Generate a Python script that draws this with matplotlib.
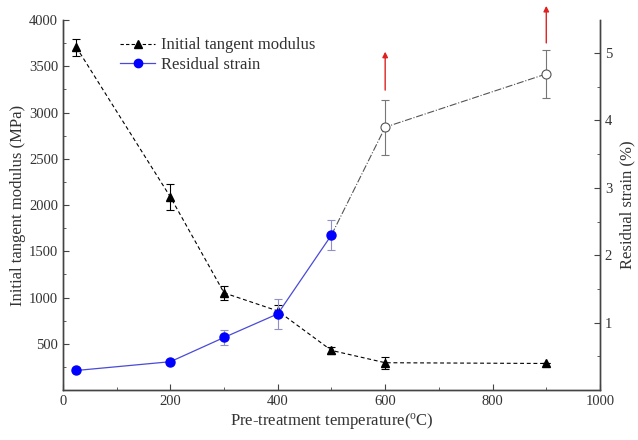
import matplotlib
matplotlib.use("Agg")
import matplotlib.pyplot as plt
from matplotlib.ticker import MultipleLocator, FixedLocator

plt.rcParams['font.family'] = ['Liberation Serif', 'DejaVu Serif']
plt.rcParams['mathtext.default'] = 'regular'

# Data
temp = [25, 200, 300, 400, 500, 600, 900]
modulus = [3705, 2087, 1050, 855, 428, 295, 287]
modulus_err = [95, 140, 75, 60, 40, 65, 0]

strain_temp = [25, 200, 300, 400, 500]
strain = [0.29, 0.42, 0.78, 1.13, 2.30]
strain_err = [0.0, 0.0, 0.11, 0.22, 0.22]

open_temp = [500, 600, 900]
open_strain = [2.30, 3.90, 4.69]
open_err = [0.0, 0.41, 0.35]

arrow_x = [600, 900]
arrow_start = [4.45, 5.15]
arrow_end = [5.02, 5.70]

txt = '#333333'
fig = plt.figure(figsize=(6.38, 4.4), dpi=100)
ax = fig.add_axes([0.0987, 0.1136, 0.8417, 0.8409])
ax2 = ax.twinx()

# modulus
ax.errorbar(temp, modulus, yerr=modulus_err, fmt='^--', color='black', lw=0.8,
            ms=6, capsize=3, elinewidth=0.8, capthick=0.8, dashes=(3.5, 2.5),
            label='Initial tangent modulus', zorder=3)

# strain
ax2.errorbar(open_temp, open_strain, yerr=open_err, fmt='-.', color='#555555', lw=0.8,
             capsize=3, elinewidth=0.8, capthick=0.8, ecolor='#777777', zorder=2)
ax2.plot(open_temp[1:], open_strain[1:], 'o', ms=6.5, mfc='white', mec='#555555', mew=0.8, zorder=4)
ax2.errorbar(strain_temp, strain, yerr=strain_err, fmt='o-', color='#4a4ad8', mfc='#0000ff',
             mec='#0000ff', ms=6.5, lw=0.9, capsize=3, elinewidth=0.8, capthick=0.8,
             ecolor='#9090c8', zorder=3)

for x0, y0, y1 in zip(arrow_x, arrow_start, arrow_end):
    ax2.annotate('', xy=(x0, y1), xytext=(x0, y0), annotation_clip=False,
                 arrowprops=dict(arrowstyle='-|>', color='#e02020', lw=1.0,
                                 mutation_scale=8, shrinkA=0, shrinkB=0))

ax.set_xlim(0, 1000)
ax.set_ylim(0, 4000)
ax2.set_ylim(0, 5.49)

ax.xaxis.set_major_locator(MultipleLocator(200))
ax.xaxis.set_minor_locator(MultipleLocator(100))
ax.yaxis.set_major_locator(FixedLocator([500, 1000, 1500, 2000, 2500, 3000, 3500, 4000]))
ax.yaxis.set_minor_locator(MultipleLocator(250))
ax2.yaxis.set_major_locator(FixedLocator([1, 2, 3, 4, 5]))
ax2.yaxis.set_minor_locator(MultipleLocator(0.5))

for a in (ax, ax2):
    a.spines['top'].set_visible(False)
    for s in a.spines.values():
        s.set_color('#444444')
        s.set_linewidth(1.0)
    a.tick_params(which='both', direction='in', colors='#444444', labelcolor=txt, labelsize=10.5)
    a.tick_params(which='major', length=4)
    a.tick_params(which='minor', length=2.5)
ax.tick_params(axis='y', which='both', right=False)

ax.set_xlabel('Pre-treatment temperature($^{o}$C)', fontsize=12, color=txt, labelpad=2)
ax.set_ylabel('Initial tangent modulus (MPa)', fontsize=12, color=txt, labelpad=2)
ax2.set_ylabel('Residual strain (%)', fontsize=12, color=txt, labelpad=5)

h1 = plt.Line2D([], [], color='black', lw=0.8, ls='--', marker='^', ms=6, dashes=(3, 2))
h2 = plt.Line2D([], [], color='#4a4ad8', lw=0.9, marker='o', ms=6, mfc='#0000ff', mec='#0000ff')
ax.legend([h1, h2], ['Initial tangent modulus', 'Residual strain'], loc='upper left',
          bbox_to_anchor=(0.088, 0.98), frameon=False, fontsize=12, handlelength=2.1,
          handletextpad=0.35, labelcolor=txt, borderaxespad=0.2, labelspacing=0.2)

fig.savefig('out.png', dpi=100)
